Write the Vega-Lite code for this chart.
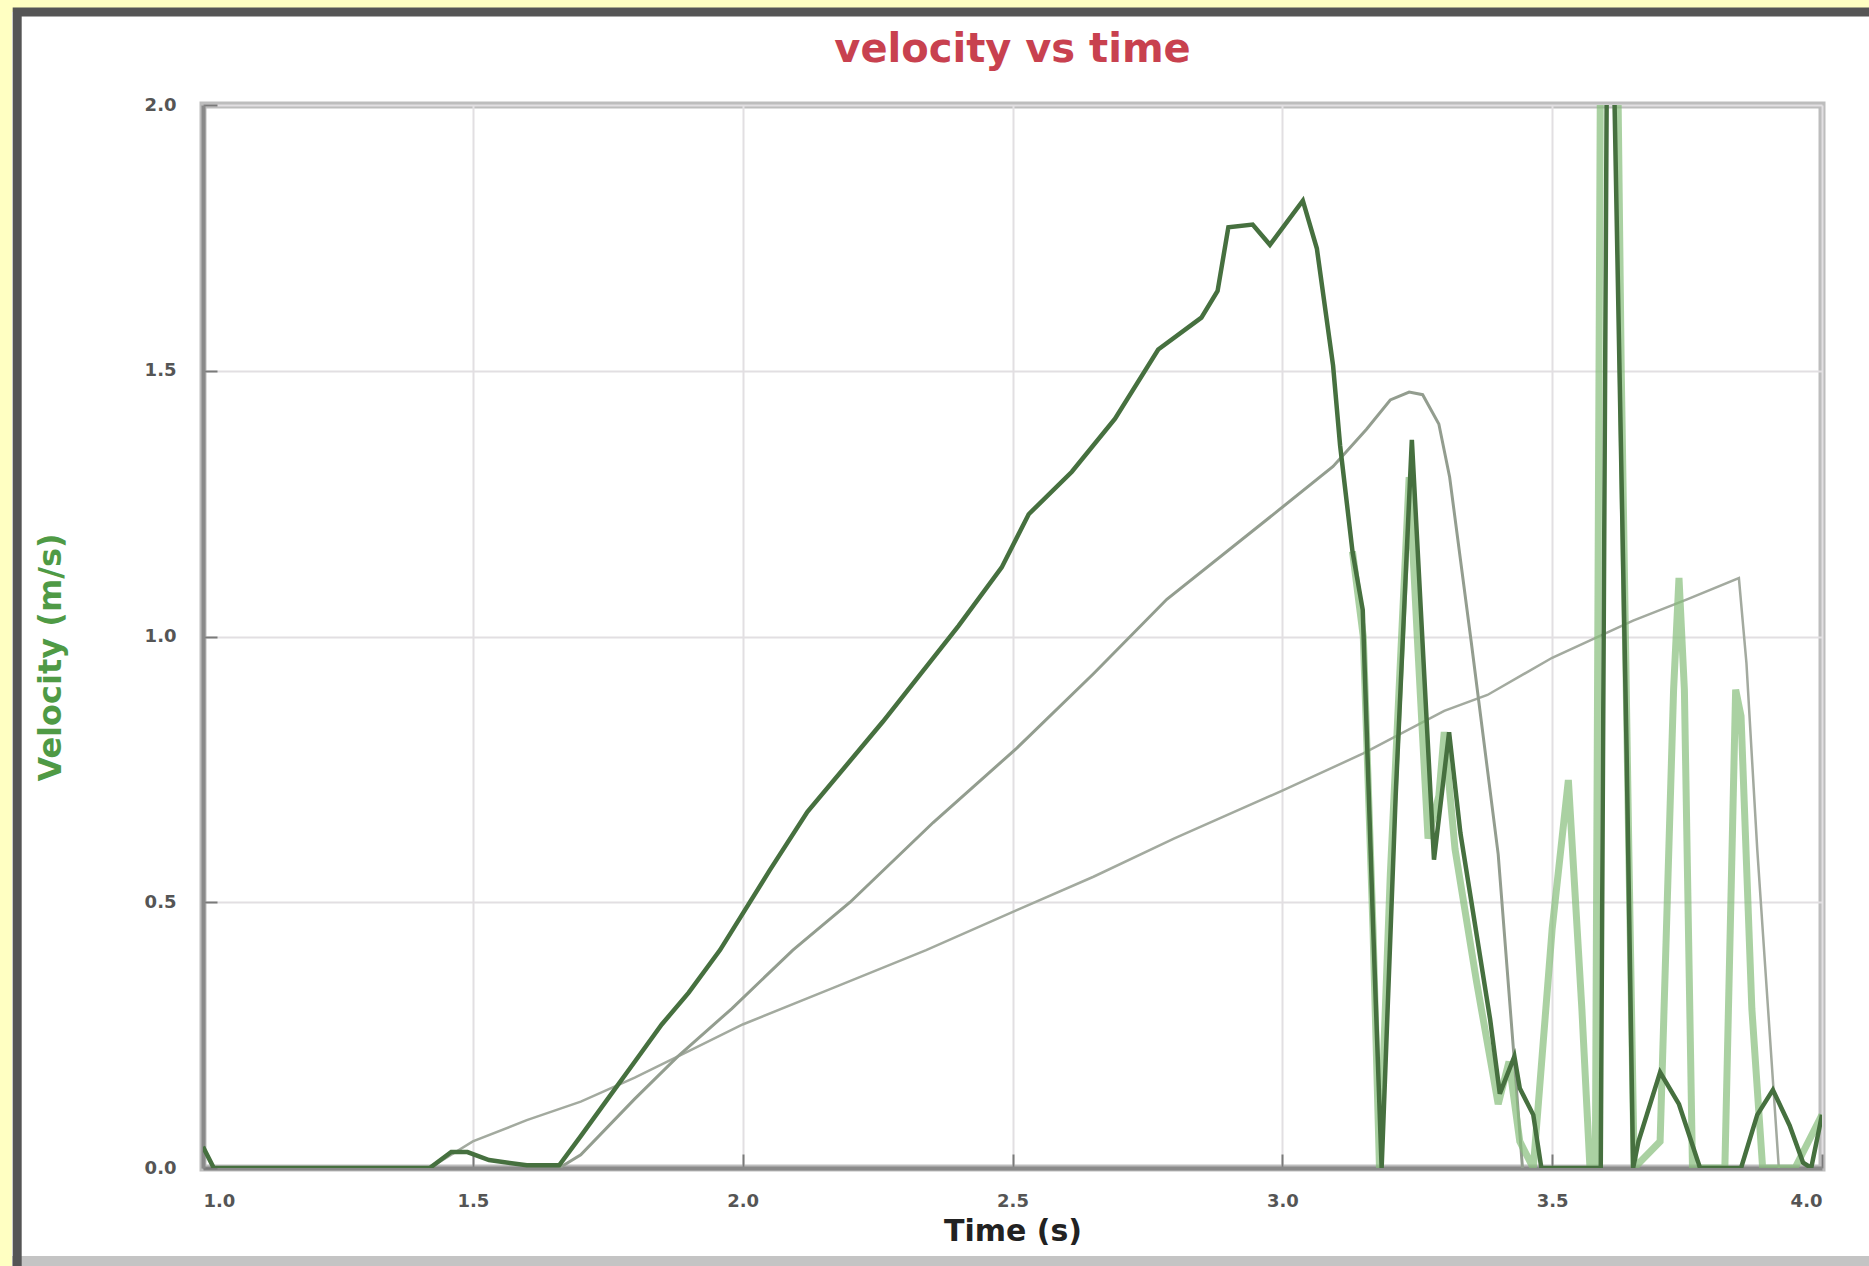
{
  "$schema": "https://vega.github.io/schema/vega-lite/v6.json",
  "width": 1619,
  "height": 1063,
  "autosize": "none",
  "padding": {"left": 203, "top": 105, "right": 47, "bottom": 98},
  "background": "#ffffff",
  "title": {
    "text": "velocity vs time",
    "color": "#c8414f",
    "font": "DejaVu Sans",
    "fontSize": 40,
    "fontWeight": "bold",
    "anchor": "middle",
    "baseline": "bottom",
    "offset": -122
  },
  "config": {
    "view": {"stroke": "#bdbdbd", "strokeWidth": 7},
    "axis": {
      "grid": true,
      "gridColor": "#e2dfe2",
      "gridWidth": 2,
      "domainColor": "#8a8a8a",
      "domainWidth": 4,
      "tickColor": "#7a7a7a",
      "tickWidth": 2,
      "tickSize": -14,
      "labelColor": "#555555",
      "labelFont": "DejaVu Sans",
      "labelFontSize": 18,
      "labelFontWeight": "bold",
      "titleFont": "DejaVu Sans",
      "titleFontWeight": "bold"
    }
  },
  "datasets": {
    "frame": [{"k": 1}],
    "vel": [
      {"s": "C", "t": 1.42, "v": 0.0},
      {"s": "C", "t": 1.5, "v": 0.05},
      {"s": "C", "t": 1.6, "v": 0.09},
      {"s": "C", "t": 1.7, "v": 0.125},
      {"s": "C", "t": 1.8, "v": 0.17},
      {"s": "C", "t": 1.9, "v": 0.22},
      {"s": "C", "t": 2.0, "v": 0.27},
      {"s": "C", "t": 2.17, "v": 0.34},
      {"s": "C", "t": 2.34, "v": 0.41},
      {"s": "C", "t": 2.508, "v": 0.485},
      {"s": "C", "t": 2.65, "v": 0.548},
      {"s": "C", "t": 2.8, "v": 0.62},
      {"s": "C", "t": 3.0, "v": 0.71},
      {"s": "C", "t": 3.15, "v": 0.78},
      {"s": "C", "t": 3.3, "v": 0.86},
      {"s": "C", "t": 3.38, "v": 0.89},
      {"s": "C", "t": 3.5, "v": 0.96},
      {"s": "C", "t": 3.65, "v": 1.03},
      {"s": "C", "t": 3.75, "v": 1.07},
      {"s": "C", "t": 3.846, "v": 1.11},
      {"s": "C", "t": 3.86, "v": 0.95},
      {"s": "C", "t": 3.88, "v": 0.6},
      {"s": "C", "t": 3.9, "v": 0.3},
      {"s": "C", "t": 3.92, "v": 0.0},
      {"s": "B", "t": 1.66, "v": 0.0},
      {"s": "B", "t": 1.7, "v": 0.025},
      {"s": "B", "t": 1.8, "v": 0.13},
      {"s": "B", "t": 1.88, "v": 0.21},
      {"s": "B", "t": 1.98, "v": 0.3},
      {"s": "B", "t": 2.093, "v": 0.41},
      {"s": "B", "t": 2.199, "v": 0.5},
      {"s": "B", "t": 2.353, "v": 0.65},
      {"s": "B", "t": 2.508, "v": 0.79},
      {"s": "B", "t": 2.65, "v": 0.93},
      {"s": "B", "t": 2.786, "v": 1.07},
      {"s": "B", "t": 2.996, "v": 1.24},
      {"s": "B", "t": 3.094, "v": 1.32},
      {"s": "B", "t": 3.156, "v": 1.39},
      {"s": "B", "t": 3.2, "v": 1.445},
      {"s": "B", "t": 3.235, "v": 1.46},
      {"s": "B", "t": 3.26, "v": 1.455},
      {"s": "B", "t": 3.29, "v": 1.4},
      {"s": "B", "t": 3.31, "v": 1.3},
      {"s": "B", "t": 3.35, "v": 0.99},
      {"s": "B", "t": 3.4, "v": 0.59},
      {"s": "B", "t": 3.43, "v": 0.2},
      {"s": "B", "t": 3.445, "v": 0.0},
      {"s": "D", "t": 3.13, "v": 1.16},
      {"s": "D", "t": 3.15, "v": 1.0},
      {"s": "D", "t": 3.168, "v": 0.45},
      {"s": "D", "t": 3.18, "v": 0.0},
      {"s": "D", "t": 3.2, "v": 0.55},
      {"s": "D", "t": 3.235, "v": 1.3},
      {"s": "D", "t": 3.25, "v": 1.0},
      {"s": "D", "t": 3.27, "v": 0.62},
      {"s": "D", "t": 3.29, "v": 0.7},
      {"s": "D", "t": 3.3, "v": 0.82},
      {"s": "D", "t": 3.32, "v": 0.6},
      {"s": "D", "t": 3.36, "v": 0.35},
      {"s": "D", "t": 3.4, "v": 0.12},
      {"s": "D", "t": 3.42, "v": 0.2},
      {"s": "D", "t": 3.44, "v": 0.05},
      {"s": "D", "t": 3.465, "v": 0.0},
      {"s": "D", "t": 3.5, "v": 0.45},
      {"s": "D", "t": 3.53, "v": 0.73},
      {"s": "D", "t": 3.555, "v": 0.3},
      {"s": "D", "t": 3.57, "v": 0.0},
      {"s": "D", "t": 3.58, "v": 0.0},
      {"s": "D", "t": 3.59, "v": 2.2},
      {"s": "D", "t": 3.62, "v": 2.2},
      {"s": "D", "t": 3.628, "v": 1.5},
      {"s": "D", "t": 3.642, "v": 0.6},
      {"s": "D", "t": 3.652, "v": 0.0},
      {"s": "D", "t": 3.7, "v": 0.05},
      {"s": "D", "t": 3.725, "v": 0.9},
      {"s": "D", "t": 3.735, "v": 1.11},
      {"s": "D", "t": 3.745, "v": 0.9},
      {"s": "D", "t": 3.76, "v": 0.0},
      {"s": "D", "t": 3.82, "v": 0.0},
      {"s": "D", "t": 3.84, "v": 0.9},
      {"s": "D", "t": 3.85, "v": 0.85},
      {"s": "D", "t": 3.87, "v": 0.3},
      {"s": "D", "t": 3.89, "v": 0.0},
      {"s": "D", "t": 3.95, "v": 0.0},
      {"s": "D", "t": 4.0, "v": 0.1},
      {"s": "A", "t": 1.0, "v": 0.04},
      {"s": "A", "t": 1.02, "v": 0.0},
      {"s": "A", "t": 1.42, "v": 0.0},
      {"s": "A", "t": 1.46, "v": 0.03},
      {"s": "A", "t": 1.49, "v": 0.03},
      {"s": "A", "t": 1.53, "v": 0.015},
      {"s": "A", "t": 1.6, "v": 0.005},
      {"s": "A", "t": 1.66, "v": 0.005},
      {"s": "A", "t": 1.7, "v": 0.06},
      {"s": "A", "t": 1.75, "v": 0.13},
      {"s": "A", "t": 1.8, "v": 0.2},
      {"s": "A", "t": 1.85, "v": 0.27},
      {"s": "A", "t": 1.9, "v": 0.33},
      {"s": "A", "t": 1.958, "v": 0.41},
      {"s": "A", "t": 2.05, "v": 0.56},
      {"s": "A", "t": 2.12, "v": 0.67},
      {"s": "A", "t": 2.26, "v": 0.84},
      {"s": "A", "t": 2.4, "v": 1.02},
      {"s": "A", "t": 2.48, "v": 1.13},
      {"s": "A", "t": 2.53, "v": 1.23},
      {"s": "A", "t": 2.61, "v": 1.31},
      {"s": "A", "t": 2.69, "v": 1.41},
      {"s": "A", "t": 2.77, "v": 1.54},
      {"s": "A", "t": 2.85, "v": 1.6},
      {"s": "A", "t": 2.88, "v": 1.65},
      {"s": "A", "t": 2.9, "v": 1.77},
      {"s": "A", "t": 2.945, "v": 1.775},
      {"s": "A", "t": 2.977, "v": 1.737},
      {"s": "A", "t": 3.038, "v": 1.82},
      {"s": "A", "t": 3.064, "v": 1.73},
      {"s": "A", "t": 3.094, "v": 1.51},
      {"s": "A", "t": 3.107, "v": 1.36},
      {"s": "A", "t": 3.13, "v": 1.16},
      {"s": "A", "t": 3.149, "v": 1.05},
      {"s": "A", "t": 3.168, "v": 0.46},
      {"s": "A", "t": 3.184, "v": 0.0},
      {"s": "A", "t": 3.21, "v": 0.7},
      {"s": "A", "t": 3.24, "v": 1.37},
      {"s": "A", "t": 3.281, "v": 0.58},
      {"s": "A", "t": 3.309, "v": 0.82},
      {"s": "A", "t": 3.33, "v": 0.63},
      {"s": "A", "t": 3.385, "v": 0.28},
      {"s": "A", "t": 3.403, "v": 0.14},
      {"s": "A", "t": 3.43, "v": 0.21},
      {"s": "A", "t": 3.44, "v": 0.15},
      {"s": "A", "t": 3.465, "v": 0.1},
      {"s": "A", "t": 3.48, "v": 0.0},
      {"s": "A", "t": 3.59, "v": 0.0},
      {"s": "A", "t": 3.602, "v": 2.2},
      {"s": "A", "t": 3.612, "v": 2.2},
      {"s": "A", "t": 3.638, "v": 0.78},
      {"s": "A", "t": 3.65, "v": 0.0},
      {"s": "A", "t": 3.66, "v": 0.05},
      {"s": "A", "t": 3.7, "v": 0.18},
      {"s": "A", "t": 3.735, "v": 0.12},
      {"s": "A", "t": 3.774, "v": 0.0},
      {"s": "A", "t": 3.85, "v": 0.0},
      {"s": "A", "t": 3.88, "v": 0.1},
      {"s": "A", "t": 3.909, "v": 0.147},
      {"s": "A", "t": 3.94, "v": 0.08},
      {"s": "A", "t": 3.965, "v": 0.01},
      {"s": "A", "t": 3.98, "v": 0.0},
      {"s": "A", "t": 4.0, "v": 0.1}
    ]
  },
  "layer": [
    {
      "data": {"name": "frame"},
      "mark": {"type": "rect", "fill": null, "stroke": "#c4c4c4", "strokeWidth": 10, "clip": false},
      "encoding": {
        "x": {"datum": 0.5, "type": "quantitative", "scale": {"domain": [1, 4], "nice": false, "zero": false}},
        "x2": {"datum": 4.4},
        "y": {"datum": -0.175, "type": "quantitative", "scale": {"domain": [0, 2], "nice": false, "zero": false}},
        "y2": {"datum": 2.19}
      }
    },
    {
      "data": {"name": "frame"},
      "mark": {"type": "rect", "fill": null, "stroke": "#ffffc2", "strokeWidth": 24, "clip": false},
      "encoding": {
        "x": {"datum": 0.6239, "type": "quantitative"},
        "x2": {"datum": 4.2},
        "y": {"datum": -0.25, "type": "quantitative"},
        "y2": {"datum": 2.1976}
      }
    },
    {
      "data": {"name": "frame"},
      "mark": {"type": "rect", "fill": null, "stroke": "#555555", "strokeWidth": 9, "clip": false},
      "encoding": {
        "x": {"datum": 0.6557, "type": "quantitative"},
        "x2": {"datum": 4.2},
        "y": {"datum": -0.25, "type": "quantitative"},
        "y2": {"datum": 2.175}
      }
    },
    {
      "data": {"name": "vel"},
      "transform": [{"filter": "datum.s == 'C'"}],
      "mark": {"type": "line", "color": "#a3aa9f", "strokeWidth": 2.5, "clip": true},
      "encoding": {
        "x": {"field": "t", "type": "quantitative"},
        "y": {"field": "v", "type": "quantitative"}
      }
    },
    {
      "data": {"name": "vel"},
      "transform": [{"filter": "datum.s == 'B'"}],
      "mark": {"type": "line", "color": "#939d8f", "strokeWidth": 3, "clip": true},
      "encoding": {
        "x": {"field": "t", "type": "quantitative"},
        "y": {"field": "v", "type": "quantitative"}
      }
    },
    {
      "data": {"name": "vel"},
      "transform": [{"filter": "datum.s == 'D'"}],
      "mark": {"type": "line", "color": "#86bd7a", "strokeWidth": 7, "opacity": 0.7, "clip": true},
      "encoding": {
        "x": {"field": "t", "type": "quantitative"},
        "y": {"field": "v", "type": "quantitative"}
      }
    },
    {
      "data": {"name": "vel"},
      "transform": [{"filter": "datum.s == 'A'"}],
      "mark": {"type": "line", "color": "#46703f", "strokeWidth": 4.5, "clip": true},
      "encoding": {
        "x": {
          "field": "t",
          "type": "quantitative",
          "axis": {
            "values": [1, 1.5, 2, 2.5, 3, 3.5, 4],
            "format": ".1f",
            "title": "Time (s)",
            "labelPadding": 38,
            "titleFontSize": 30,
            "titleColor": "#222222",
            "titleY": 63,
            "titleBaseline": "middle"
          }
        },
        "y": {
          "field": "v",
          "type": "quantitative",
          "axis": {
            "values": [0, 0.5, 1, 1.5, 2],
            "format": ".1f",
            "title": "Velocity (m/s)",
            "labelPadding": 41,
            "titleFontSize": 32,
            "titleColor": "#4f9a45",
            "titleX": -153,
            "titleY": 552,
            "titleBaseline": "middle",
            "titleAlign": "center",
            "titleAngle": -90
          }
        }
      }
    }
  ]
}
